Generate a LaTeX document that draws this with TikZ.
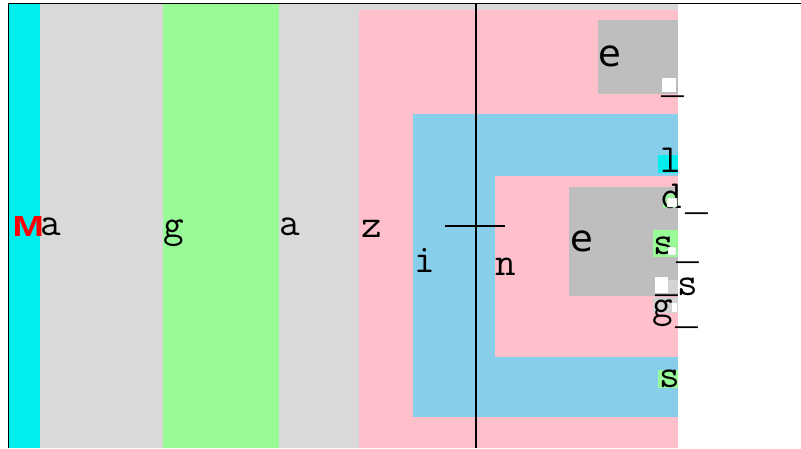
\documentclass[tikz,border=0pt]{standalone}
\usepackage{graphicx}
\usepackage{fontspec}
\newfontfamily\capfont{Liberation Sans}
\newfontfamily\efont{DejaVu Sans}
\newfontfamily\barfont{Liberation Mono}
\definecolor{bandcyan}{RGB}{0,238,238}
\definecolor{bandgray}{RGB}{217,217,217}
\definecolor{bandgreen}{RGB}{152,251,152}
\definecolor{bandpink}{RGB}{255,192,203}
\definecolor{bandsky}{RGB}{135,206,235}
\definecolor{boxgray}{RGB}{190,190,190}
\definecolor{chipgray}{RGB}{211,211,211}
\tikzset{
  glyph/.style={font=\ttfamily\fontsize{40}{40}\selectfont, inner sep=0pt, anchor=base west, text=black},
  eglyph/.style={font=\efont\fontsize{37}{37}\selectfont, inner sep=0pt, anchor=base west, text=black},
  under/.style={font=\barfont\fontsize{38}{38}\selectfont, inner sep=0pt, anchor=base west, text=black},
  rule/.style={line width=1.5pt, black},
  tick/.style={fill=white, draw=black!35, line width=0.4pt, rounded corners=0.6pt}
}
\begin{document}
\begin{tikzpicture}[x=1pt,y=-1pt]
\useasboundingbox (0,0) rectangle (801,448);
% column bands
\fill[bandgray] (40,4) rectangle (678,448);
\fill[bandcyan] (9,4) rectangle (40,448);
\fill[bandgreen] (163,4) rectangle (279,448);
\fill[bandpink] (359,9.5) rectangle (678,448);
% nested boxes
\fill[boxgray] (598,20) rectangle (678,94);
\fill[bandsky] (413,114) rectangle (678,417);
\fill[bandpink] (495,176) rectangle (678,357);
\fill[boxgray] (569,187) rectangle (678,296);
% small chips in the right column
\fill[bandcyan] (658,155) rectangle (678,173);
\fill[bandgreen] (663,194) rectangle (678,208);
\fill[bandgreen] (653,230) rectangle (678,257);
\fill[chipgray] (668,280) rectangle (678,293);
\fill[white] (655,277) rectangle (668,293);
\fill[chipgray] (653,297) rectangle (678,313);
\fill[bandgreen] (658,370) rectangle (678,388);
\fill[white] (662,78) rectangle (676,92);
% frame and rules
\coordinate (ftr) at (801,3.7);
\coordinate (ftl) at (8.7,3.7);
\coordinate (fbl) at (8.7,448);
\draw[line width=1.3pt] (ftr) -- (ftl) -- (fbl);
\coordinate (vtop) at (476,4);
\coordinate (vbot) at (476,448);
\draw[rule] (vtop) -- (vbot);
\coordinate (hl) at (445,226);
\coordinate (hr) at (505,226);
\draw[rule] (hl) -- (hr);
% letters
\node[inner sep=0pt, anchor=base west, text=red, font=\capfont\bfseries\fontsize{29}{29}\selectfont] (m) at (12.5,236.5) {\scalebox{1.3}[1]{M}};
\node[glyph] (a1) at (40,235) {a};
\node[glyph] (g1) at (163,237) {g};
\node[glyph] (a2) at (279,235) {a};
\node[glyph] (z) at (361,237) {z};
\node[glyph] (i) at (414.5,272) {i};
\node[glyph] (n) at (495,275) {n};
\node[eglyph] (e1) at (598,66) {e};
\node[eglyph] (e2) at (570,251) {e};
\node[glyph] (l) at (660,172) {l};
\node[glyph] (d) at (661,208) {d};
\node[glyph] (s1) at (653,254) {s};
\node[glyph] (s2) at (677,295) {s};
\node[glyph] (g2) at (652,317) {g};
\node[glyph] (s3) at (659,387) {s};
% small marks over letters
\draw[tick] (667,198) rectangle (677,207);
\draw[tick] (668,247) rectangle (676,255);
\fill[white] (672,303) rectangle (677,312);
% underscores
\node[under] (u1) at (661,93) {\_};
\node[under] (u2) at (685,210) {\_};
\node[under] (u3) at (676,259) {\_};
\node[under] (u4) at (655,292) {\_};
\node[under] (u5) at (675,324) {\_};
\end{tikzpicture}
\end{document}
